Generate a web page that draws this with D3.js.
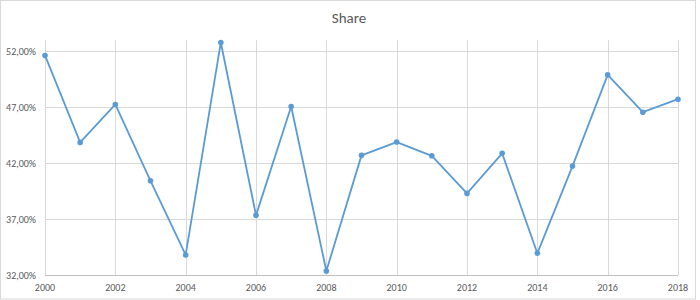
<!DOCTYPE html>
<html>
<head>
<meta charset="utf-8">
<script src="https://cdn.jsdelivr.net/npm/d3@7"></script>
<style>
  html, body { margin: 0; padding: 0; background: #fff; }
  svg { display: block; }
</style>
</head>
<body>
<div id="chart"></div>
<script>
// values (percent)
const years = [2000, 2001, 2002, 2003, 2004, 2005, 2006, 2007, 2008, 2009,
               2010, 2011, 2012, 2013, 2014, 2015, 2016, 2017, 2018];
const share = [51.62, 43.85, 47.24, 40.42, 33.79, 52.78, 37.33, 47.06, 32.36, 42.69,
               43.88, 42.65, 39.29, 42.87, 33.94, 41.73, 49.88, 46.55, 47.71];
const yTicks = [32, 37, 42, 47, 52];
const xTicks = [2000, 2002, 2004, 2006, 2008, 2010, 2012, 2014, 2016, 2018];

const W = 700, H = 300;
const MARGIN = { top: 40, right: 22, bottom: 25, left: 45 };
const FONT = "Carlito, 'Liberation Sans', Arial, sans-serif";
const TEXT = '#595959';
const GRID = '#d9d9d9';
const BLUE = '#5b9bd5';

const svg = d3.select('#chart').append('svg')
  .attr('width', W)
  .attr('height', H);

// chart border
svg.append('rect')
  .attr('x', 0.5).attr('y', 0.5)
  .attr('width', W - 5).attr('height', H - 1.5)
  .attr('fill', '#fff')
  .attr('stroke', '#d9d9d9');

svg.append('text')
  .attr('x', 349).attr('y', 23)
  .attr('text-anchor', 'middle')
  .attr('font-family', FONT)
  .attr('font-size', 15)
  .attr('fill', TEXT)
  .text('Share');

const x = d3.scaleLinear()
  .domain([2000, 2018])
  .range([MARGIN.left, W - MARGIN.right]);
const y = d3.scaleLinear()
  .domain([32, 53])
  .range([H - MARGIN.bottom, MARGIN.top]);

const g = svg.append('g');

// horizontal grid
g.append('g')
  .selectAll('line')
  .data(yTicks)
  .join('line')
  .attr('x1', x(2000)).attr('x2', x(2018))
  .attr('y1', d => Math.round(y(d)) + 0.5).attr('y2', d => Math.round(y(d)) + 0.5)
  .attr('stroke', GRID);

// vertical grid
g.append('g')
  .selectAll('line')
  .data(xTicks)
  .join('line')
  .attr('x1', d => Math.round(x(d)) + 0.5).attr('x2', d => Math.round(x(d)) + 0.5)
  .attr('y1', y(53)).attr('y2', y(32))
  .attr('stroke', GRID);

// x axis line
g.append('line')
  .attr('x1', x(2000)).attr('x2', x(2018))
  .attr('y1', Math.round(y(32)) + 0.5).attr('y2', Math.round(y(32)) + 0.5)
  .attr('stroke', '#bfbfbf');

// y labels
g.append('g')
  .selectAll('text')
  .data(yTicks)
  .join('text')
  .attr('x', 36)
  .attr('y', d => y(d))
  .attr('dy', '0.35em')
  .attr('text-anchor', 'end')
  .attr('font-family', FONT)
  .attr('font-size', 10)
  .attr('fill', TEXT)
  .text(d => d3.format('.2f')(d).replace('.', ',') + '%');

// x labels
g.append('g')
  .selectAll('text')
  .data(xTicks)
  .join('text')
  .attr('x', d => x(d))
  .attr('y', 287)
  .attr('dy', '0.35em')
  .attr('text-anchor', 'middle')
  .attr('font-family', FONT)
  .attr('font-size', 10)
  .attr('fill', TEXT)
  .text(d => d);

const pts = years.map((yr, i) => ({ yr, v: share[i] }));

g.append('path')
  .datum(pts)
  .attr('fill', 'none')
  .attr('stroke', BLUE)
  .attr('stroke-width', 1.8)
  .attr('stroke-linejoin', 'round')
  .attr('d', d3.line().x(d => x(d.yr)).y(d => y(d.v)));

g.append('g')
  .selectAll('circle')
  .data(pts)
  .join('circle')
  .attr('cx', d => x(d.yr))
  .attr('cy', d => y(d.v))
  .attr('r', 2.8)
  .attr('fill', BLUE);
</script>
</body>
</html>
